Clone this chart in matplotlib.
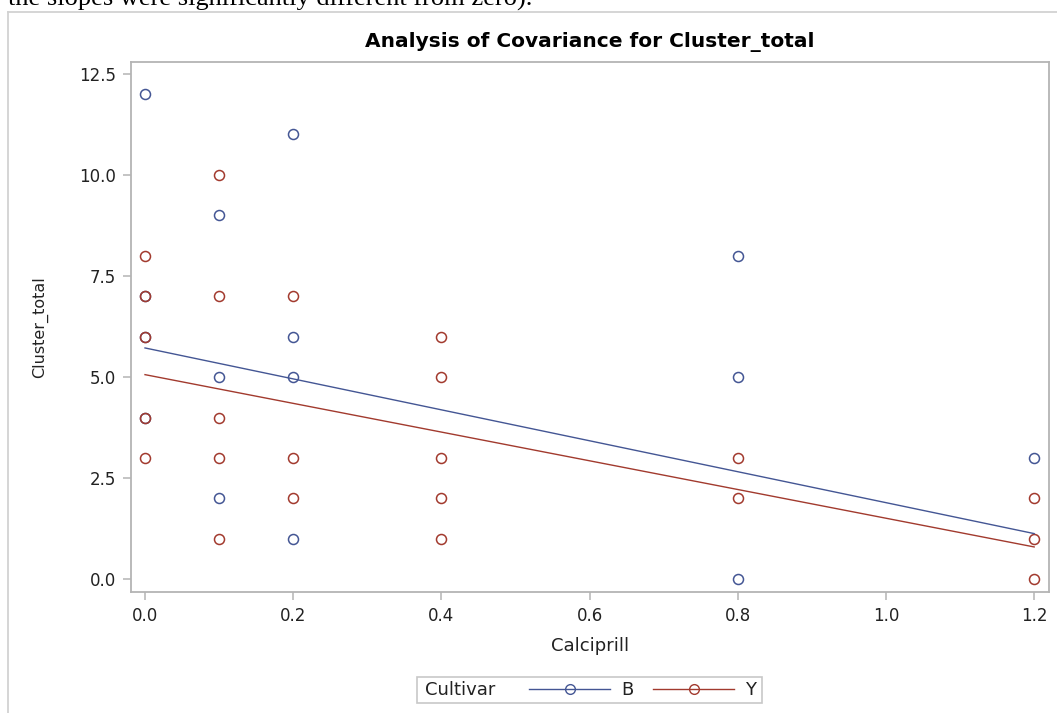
import matplotlib
matplotlib.use("Agg")
import matplotlib.pyplot as plt
from matplotlib.lines import Line2D
from matplotlib.patches import Rectangle

# observed points per cultivar
b_x = [0.0, 0.0, 0.0, 0.0, 0.1, 0.1, 0.1, 0.2, 0.2, 0.2, 0.2, 0.8, 0.8, 0.8, 1.2]
b_y = [12, 7, 6, 4, 9, 5, 2, 11, 6, 5, 1, 8, 5, 0, 3]
y_x = [0.0, 0.0, 0.0, 0.0, 0.0, 0.1, 0.1, 0.1, 0.1, 0.1, 0.2, 0.2, 0.2,
       0.4, 0.4, 0.4, 0.4, 0.4, 0.8, 0.8, 1.2, 1.2, 1.2]
y_y = [8, 7, 6, 4, 3, 10, 7, 4, 3, 1, 7, 3, 2,
       6, 5, 3, 2, 1, 3, 2, 2, 1, 0]

# fitted lines
fit_x = [0.0, 1.2]
fit_b = [5.72, 1.13]
fit_y = [5.06, 0.80]

blue = "#445694"
red = "#A23A2E"
grey = "#b4b4b4"

plt.rcParams['font.family'] = ['DejaVu Sans']

W, H = 1057, 713
fig = plt.figure(figsize=(W / 100, H / 100), dpi=100)
ax = fig.add_axes([131 / W, 1 - 592 / H, 918 / W, 530 / H])

ax.plot(b_x, b_y, 'o', ls='none', mfc='none', mec=blue, ms=7.2, mew=1.1)
ax.plot(y_x, y_y, 'o', ls='none', mfc='none', mec=red, ms=7.2, mew=1.1)
ax.plot(fit_x, fit_b, '-', color=blue, lw=1.0)
ax.plot(fit_x, fit_y, '-', color=red, lw=1.0)

ax.set_xlim(-0.0189, 1.2200)
ax.set_ylim(-0.314, 12.79)
ax.set_xticks([0.0, 0.2, 0.4, 0.6, 0.8, 1.0, 1.2])
ax.set_yticks([0.0, 2.5, 5.0, 7.5, 10.0, 12.5])
ax.set_xticklabels(["0.0", "0.2", "0.4", "0.6", "0.8", "1.0", "1.2"])
ax.set_yticklabels(["0.0", "2.5", "5.0", "7.5", "10.0", "12.5"])

for s in ax.spines.values():
    s.set_color(grey)
    s.set_linewidth(1.3)
ax.tick_params(direction='out', length=6, width=1.1, color=grey,
               labelsize=12, labelcolor='#222222')
ax.tick_params(axis='x', pad=5)
ax.tick_params(axis='y', pad=5)

ax.set_xlabel("Calciprill", fontsize=13, color='#222222')
ax.set_ylabel("Cluster_total", fontsize=11.5, color='#222222')
ax.xaxis.label.set_va('center')
ax.yaxis.label.set_va('center')
ax.xaxis.set_label_coords(0.5, (592 - 646) / 530)
ax.yaxis.set_label_coords((40 - 131) / 918, 0.5)

ax.set_title("Analysis of Covariance for Cluster_total", fontsize=14.5,
             fontweight='bold', pad=11)

# legend: frame, "Cultivar" title on the left, then the two entries
fig.add_artist(Rectangle((417 / W, 1 - 703 / H), 345 / W, 26 / H,
                         transform=fig.transFigure, fill=False,
                         edgecolor='#c8c8c8', lw=1.2))
fig.text(425 / W, 1 - 688 / H, "Cultivar", fontsize=13, color='#222222',
         ha='left', va='center_baseline')
handles = [Line2D([], [], color=blue, lw=1.0, marker='o', mfc='none', mec=blue, ms=7),
           Line2D([], [], color=red, lw=1.0, marker='o', mfc='none', mec=red, ms=7)]
leg = fig.legend(handles, ["B", "Y"], ncol=2, loc='center left',
                 bbox_to_anchor=(529 / W, 1 - 690 / H), fontsize=13,
                 frameon=False, handlelength=4.5, handletextpad=0.6,
                 columnspacing=1.1, borderpad=0, borderaxespad=0)
for t in leg.get_texts():
    t.set_color('#222222')

# outer page frame and cut-off sentence above
fig.add_artist(Line2D([8 / W, 1], [1 - 12 / H, 1 - 12 / H], transform=fig.transFigure,
                      color='#d2d2d2', lw=1.3))
fig.add_artist(Line2D([8 / W, 8 / W], [1 - 12 / H, 0], transform=fig.transFigure,
                      color='#d2d2d2', lw=1.3))
fig.text(8 / W, 1 - 6 / H, "the slopes were significantly different from zero).",
         family='Liberation Serif', fontsize=19, va='baseline', ha='left')

fig.savefig("out.png", dpi=100)
